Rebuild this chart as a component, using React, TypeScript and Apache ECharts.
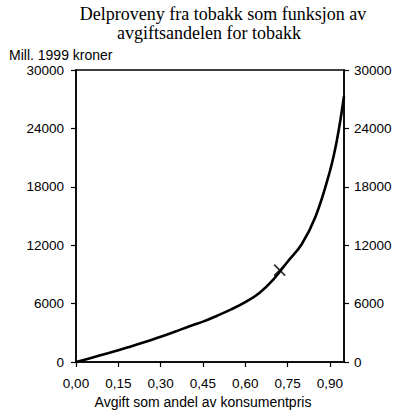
import React, { useEffect, useRef } from 'react'
import * as echarts from 'echarts'

// avgiftsandel (x) og delproveny i mill. 1999 kroner (y)
const taxShare = [0, 0.05, 0.1, 0.15, 0.2, 0.25, 0.3, 0.35, 0.4, 0.45, 0.5, 0.55, 0.6, 0.65, 0.7, 0.75, 0.8, 0.85, 0.9, 0.925, 0.95]
const revenue = [0, 380, 800, 1200, 1650, 2100, 2600, 3100, 3650, 4150, 4750, 5400, 6150, 7100, 8500, 10300, 12100, 15000, 19600, 22800, 27300]
const currentPoint = [[0.722, 9450]]
const yTicks = [0, 6000, 12000, 18000, 24000, 30000]

const sans = 'Liberation Sans, Arial, sans-serif'
const serif = 'Liberation Serif, Times New Roman, serif'

const fmtX = (v: number) => {
  if (Math.abs(Math.round(v / 0.15) * 0.15 - v) > 1e-6) return ''
  return v.toFixed(2).replace('.', ',')
}
const fmtY = (v: number) => String(v)

const App: React.FC = () => {
  const chartRef = useRef<HTMLDivElement>(null)

  useEffect(() => {
    if (!chartRef.current) return
    const chart = echarts.init(chartRef.current, undefined, { renderer: 'svg' })

    const yAxisBase = {
      type: 'value',
      min: yTicks[0],
      max: yTicks[yTicks.length - 1],
      interval: yTicks[1] - yTicks[0],
      splitLine: { show: false },
      axisLine: { show: true, lineStyle: { color: '#000', width: 1.5 } },
      axisTick: { show: true, inside: false, length: 5, lineStyle: { color: '#000', width: 1.2 } },
    }

    const titleStyle = { fontFamily: serif, fontSize: 18, lineHeight: 19, fontWeight: 'normal', color: '#000' }

    chart.setOption({
      animation: false,
      title: [
        {
          text: 'Delproveny fra tobakk som funksjon av',
          left: 223,
          top: 4,
          padding: 0,
          textAlign: 'center',
          textStyle: titleStyle,
        },
        {
          text: 'avgiftsandelen for tobakk',
          left: 209,
          top: 23,
          padding: 0,
          textAlign: 'center',
          textStyle: titleStyle,
        },
      ],
      graphic: [
        {
          type: 'text',
          left: 9,
          top: 48,
          style: { text: 'Mill. 1999 kroner', font: `14px ${sans}`, fill: '#000' },
        },
        {
          type: 'text',
          x: 203,
          y: 402,
          style: {
            text: 'Avgift som andel av konsumentpris',
            font: `14px ${sans}`,
            fill: '#000',
            align: 'center',
            verticalAlign: 'middle',
          },
        },
      ],
      grid: {
        left: 76,
        right: 62,
        top: 70,
        bottom: 58,
        show: true,
        borderColor: '#000',
        borderWidth: 1.5,
      },
      xAxis: {
        type: 'value',
        min: 0,
        max: 0.95,
        interval: 0.15,
        splitLine: { show: false },
        axisLine: { show: true, onZero: false, lineStyle: { color: '#000', width: 1.5 } },
        axisTick: { show: true, inside: false, length: 5, lineStyle: { color: '#000', width: 1.2 } },
        axisLabel: {
          formatter: fmtX,
          margin: 14,
          fontFamily: sans,
          fontSize: 13.5,
          color: '#000',
          showMaxLabel: false,
        },
      },
      yAxis: [
        {
          ...yAxisBase,
          position: 'left',
          axisLabel: { formatter: fmtY, margin: 12, fontFamily: sans, fontSize: 13.5, color: '#000' },
        },
        {
          ...yAxisBase,
          position: 'right',
          axisLabel: { formatter: fmtY, margin: 10, fontFamily: sans, fontSize: 13.5, color: '#000' },
        },
      ],
      series: [
        {
          type: 'line',
          data: taxShare.map((x, i) => [x, revenue[i]]),
          smooth: 0.4,
          showSymbol: false,
          lineStyle: { color: '#000', width: 2.6 },
          yAxisIndex: 0,
        },
        {
          type: 'scatter',
          data: currentPoint,
          symbol: 'path://M0,0L10,10M10,0L0,10',
          symbolSize: 11,
          itemStyle: { color: 'none', borderColor: '#000', borderWidth: 1.8 },
          yAxisIndex: 0,
        },
      ],
    })

    return () => {
      chart.dispose()
    }
  }, [])

  return (
    <div
      ref={chartRef}
      style={{ position: 'absolute', left: 0, top: 0, width: 406, height: 420 }}
    />
  )
}

export default App
